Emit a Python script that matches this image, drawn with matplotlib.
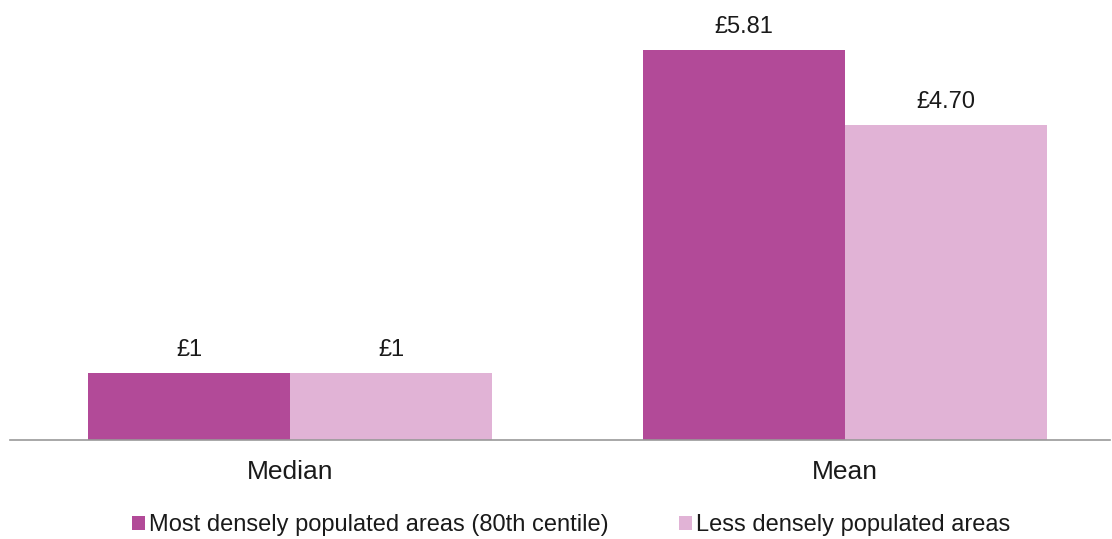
import matplotlib.pyplot as plt
import numpy as np

plt.rcParams['font.family'] = ['Liberation Sans', 'DejaVu Sans']

# data
categories = ['Median', 'Mean']
dense_vals = [1.00, 5.81]
less_vals = [1.00, 4.70]
dense_labels = ['£1', '£5.81']
less_labels = ['£1', '£4.70']
series_names = ['Most densely populated areas (80th centile)',
                'Less densely populated areas']

c_dense = '#B24A98'
c_less = '#E1B3D6'

fig = plt.figure(figsize=(11.12, 5.39), dpi=100)
ax = fig.add_axes([10/1112, 1 - 439.5/539, 1100/1112, 439.5/539])

x = np.arange(len(categories))
w = 0.364
b1 = ax.bar(x - w/2, dense_vals, w, color=c_dense, label=series_names[0])
b2 = ax.bar(x + w/2, less_vals, w, color=c_less, label=series_names[1])

for bars, labs in ((b1, dense_labels), (b2, less_labels)):
    for r, t in zip(bars, labs):
        ax.annotate(t, (r.get_x() + r.get_width()/2, r.get_height()),
                    xytext=(0, 8.5), textcoords='offset points',
                    ha='center', va='bottom', fontsize=17, color='#1a1a1a')

ax.set_xlim(-0.505, 1.477)
ax.set_ylim(0, 6.56)
ax.set_yticks([])
ax.set_xticks(x)
ax.set_xticklabels(categories, fontsize=19, color='#1a1a1a')
ax.tick_params(axis='x', length=0, pad=15)
for s in ['top', 'right', 'left']:
    ax.spines[s].set_visible(False)
ax.spines['bottom'].set_color('#999999')
ax.spines['bottom'].set_linewidth(1.2)

fig.legend(loc='center', bbox_to_anchor=(571/1112, 1 - 525/539), ncol=2,
           frameon=False, fontsize=17, handlelength=0.55, handleheight=0.55,
           handletextpad=0.17, columnspacing=3.0, labelcolor='#1a1a1a',
           borderpad=0, borderaxespad=0)

fig.savefig('out.png', dpi=100)
